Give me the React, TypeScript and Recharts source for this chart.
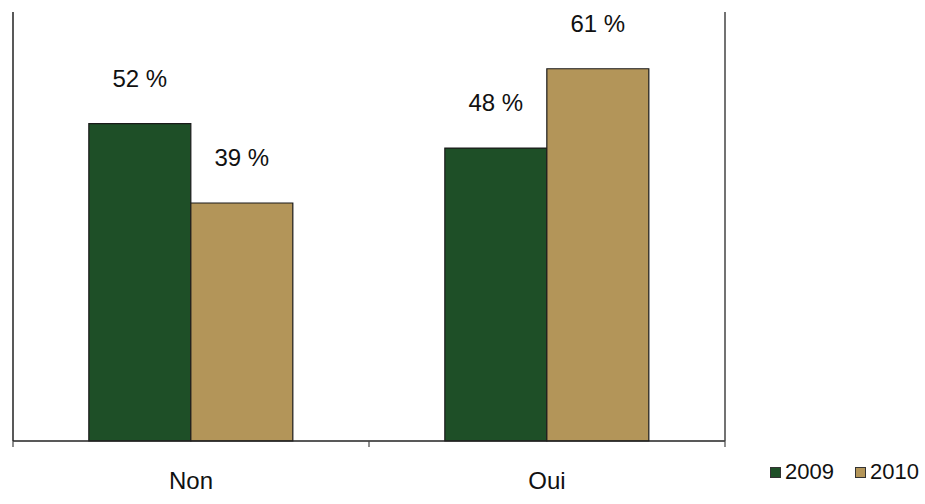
import React from 'react'
import {
  Bar,
  BarChart,
  LabelList,
  XAxis,
  YAxis,
} from 'recharts'

const categories = ['Non', 'Oui']
const values2009 = [52, 48]
const values2010 = [39, 61]
const seriesNames = ['2009', '2010']

const WIDTH = 925
const HEIGHT = 504
const AXIS_H = 63
const MARGIN = { top: 12, right: 199, bottom: 0, left: 12 }
const PLOT_W = WIDTH - MARGIN.left - MARGIN.right - 2
const BAND = PLOT_W / categories.length

const COLORS = ['#1e4f27', '#b39559']
const FONT = '"Liberation Sans", Arial, sans-serif'

const chartData = categories.map((name, i) => ({
  name,
  y2009: values2009[i],
  y2010: values2010[i],
}))

// category label centred under the group, plus tick marks on the group boundaries
function CategoryTick(props: any) {
  const { x, y, payload, index } = props
  const left = x - BAND / 2
  const right = x + BAND / 2
  return (
    <g>
      <line x1={left} y1={y - 8} x2={left} y2={y - 2} stroke="#444" strokeWidth={1.2} />
      {index === categories.length - 1 && (
        <line x1={right} y1={y - 8} x2={right} y2={y - 2} stroke="#444" strokeWidth={1.2} />
      )}
      <text
        x={x}
        y={y + 40}
        textAnchor="middle"
        fontSize={24}
        fontFamily={FONT}
        fill="#111"
      >
        {payload.value}
      </text>
    </g>
  )
}

function ChartLegend() {
  return (
    <div
      style={{
        position: 'absolute',
        left: 770,
        top: 459,
        display: 'flex',
        alignItems: 'center',
        fontFamily: FONT,
        fontSize: 22,
        color: '#111',
      }}
    >
      {seriesNames.map((s, i) => (
        <span key={s} style={{ display: 'flex', alignItems: 'center', marginRight: 21 }}>
          <span
            style={{
              width: 9,
              height: 9,
              background: COLORS[i],
              border: '1px solid #333',
              display: 'inline-block',
              marginRight: 4,
            }}
          />
          <span>{s}</span>
        </span>
      ))}
    </div>
  )
}

export default function App() {
  return (
    <div style={{ position: 'absolute', left: 0, top: 0, width: WIDTH, height: HEIGHT, background: '#fff' }}>
      <BarChart
        width={WIDTH}
        height={HEIGHT}
        data={chartData}
        margin={MARGIN}
        barCategoryGap="21.3%"
        barGap={0}
      >
        <XAxis
          dataKey="name"
          height={AXIS_H}
          axisLine={{ stroke: '#222', strokeWidth: 1.5 }}
          tickLine={false}
          tick={<CategoryTick />}
          interval={0}
        />
        <YAxis
          width={1}
          domain={[0, 70.3]}
          ticks={[0]}
          tick={false}
          tickLine={false}
          axisLine={{ stroke: '#222', strokeWidth: 1.5 }}
        />
        <YAxis
          yAxisId="frame"
          orientation="right"
          width={1}
          ticks={[0]}
          tick={false}
          tickLine={false}
          axisLine={{ stroke: '#444', strokeWidth: 1.5 }}
        />
        <Bar dataKey="y2009" name="2009" fill={COLORS[0]} stroke="#1a1a1a" strokeWidth={1.2} isAnimationActive={false}>
          <LabelList
            dataKey="y2009"
            position="top"
            offset={37}
            formatter={(v: any) => `${v} %`}
            fill="#111"
            fontSize={24}
            fontFamily={FONT}
          />
        </Bar>
        <Bar dataKey="y2010" name="2010" fill={COLORS[1]} stroke="#1a1a1a" strokeWidth={1.2} isAnimationActive={false}>
          <LabelList
            dataKey="y2010"
            position="top"
            offset={37}
            formatter={(v: any) => `${v} %`}
            fill="#111"
            fontSize={24}
            fontFamily={FONT}
          />
        </Bar>
      </BarChart>
      <ChartLegend />
    </div>
  )
}
